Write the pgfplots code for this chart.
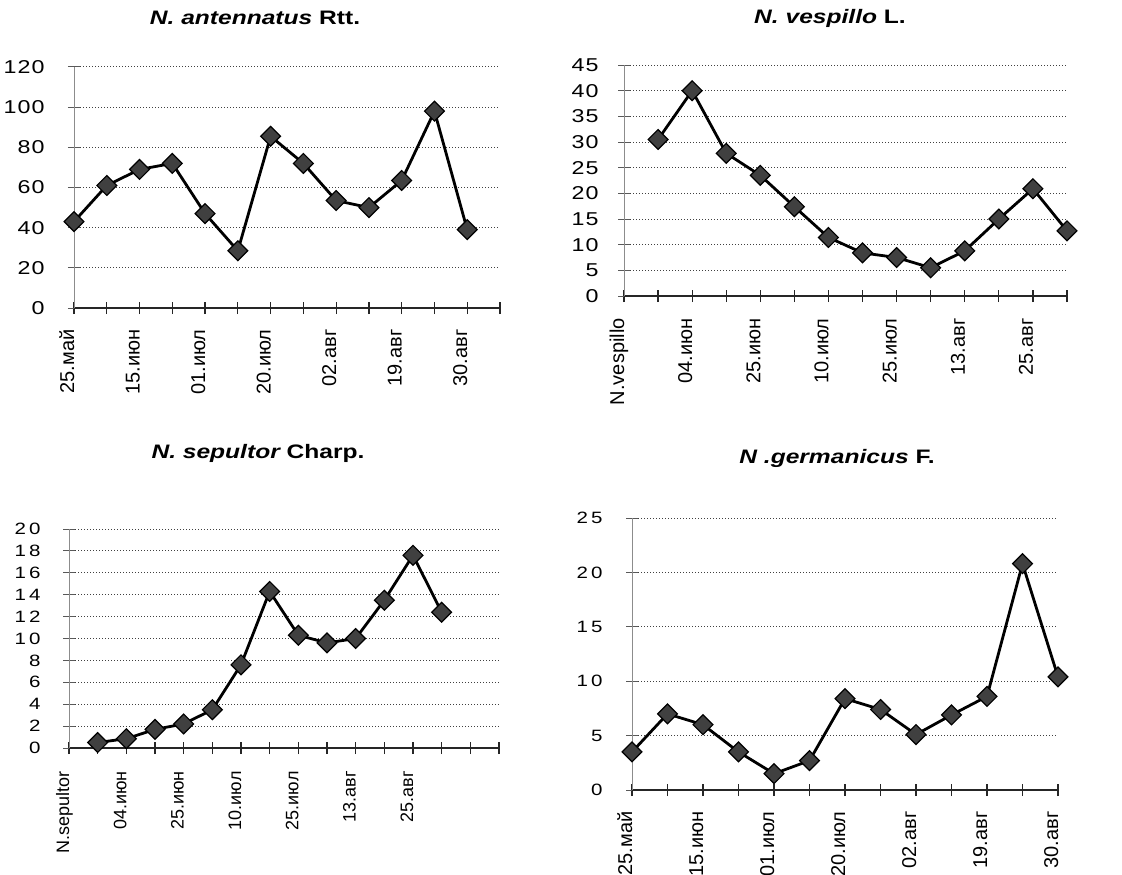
\documentclass[border=0pt]{standalone}
\usepackage{fontspec}
\usepackage{pgfplots}
\pgfplotsset{compat=1.18}
\setmainfont{Liberation Sans}
\newfontfamily\titlefont[FakeStretch=1.26]{Liberation Sans}
\newfontfamily\ytickfont[FakeStretch=1.25,LetterSpace=6]{Liberation Sans}
\newfontfamily\ytickfontw[FakeStretch=1.25,LetterSpace=20]{Liberation Sans}

% 1 px of the reference = 0.5pt
\pgfplotsset{
  chart/.style={
    scale only axis, anchor=south west,
    axis lines*=left, xmin=0, ymin=0, clip=false,
    xtick pos=bottom, ytick pos=left,
    xtick align=center, ytick align=center, major tick length=6pt,
    x axis line style={black!85, line width=0.7pt},
    y axis line style={black!45, line width=0.5pt},
    xtick style={black!85, line width=0.6pt},
    ytick style={black!65, line width=0.5pt},
    ymajorgrids, grid style={black!75, line width=0.5pt, dash pattern=on 0.5pt off 1pt},
    /pgf/number format/assume math mode=true,
    xticklabel style={rotate=90, anchor=base east, inner sep=0pt, font=\fontsize{10}{12}\selectfont},
    yticklabel style={anchor=east, inner sep=0pt},
  },
  ser/.style={black, line width=1.4pt, mark=square*, mark size=3.5pt,
    mark options={rotate=45, fill=black!75, draw=black, line width=0.6pt, solid}},
}

\begin{document}
\begin{tikzpicture}
\path[use as bounding box] (0,0) rectangle (561pt,437pt);

% N. antennatus
\begin{axis}[chart, at={(37pt,283pt)}, width=213pt, height=120.5pt,
  xmax=13, ymax=120, xtick={0,...,13}, ytick={0,20,...,120},
  xticklabels={25.май,,15.июн,,01.июл,,20.июл,,02.авг,,19.авг,,30.авг,},
  yticklabel style={font=\ytickfont\fontsize{9.3}{11}\selectfont},
  xtick align=center, ytick align=center,
  xticklabel shift=7.5pt, yticklabel shift=11.5pt]
\addplot[ser] coordinates {(0,43) (1,61) (2,69) (3,72) (4,47) (5,28.5) (6,85.5) (7,72) (8,53.5) (9,50) (10,63.5) (11,98) (12,39)};
\end{axis}

% N. vespillo
\begin{axis}[chart, at={(312pt,289pt)}, width=221.5pt, height=115.5pt,
  xmax=13, ymax=45, xtick={0,...,13}, ytick={0,5,...,45},
  xticklabels={N.vespillo,,04.июн,,25.июн,,10.июл,,25.июл,,13.авг,,25.авг,},
  yticklabel style={font=\ytickfont\fontsize{9.3}{11}\selectfont},
  xtick align=center, ytick align=center,
  xticklabel shift=8pt, yticklabel shift=9.5pt]
\addplot[ser] coordinates {(1,30.5) (2,40) (3,27.8) (4,23.5) (5,17.4) (6,11.4) (7,8.4) (8,7.5) (9,5.5) (10,8.8) (11,15) (12,20.9) (13,12.7)};
\end{axis}

% N. sepultor
\begin{axis}[chart, at={(34.5pt,63pt)}, width=215pt, height=109.5pt,
  xmax=15, ymax=20, xtick={0,...,15}, ytick={0,2,...,20},
  xticklabels={N.sepultor,,04.июн,,25.июн,,10.июл,,25.июл,,13.авг,,25.авг,,,},
  xticklabel style={font=\fontsize{9}{11}\selectfont},
  yticklabel style={font=\ytickfontw\fontsize{8.2}{10}\selectfont},
  xtick align=center, ytick align=center,
  xticklabel shift=8.5pt, yticklabel shift=11pt]
\addplot[ser] coordinates {(1,0.5) (2,0.85) (3,1.7) (4,2.2) (5,3.5) (6,7.6) (7,14.3) (8,10.3) (9,9.6) (10,10) (11,13.5) (12,17.6) (13,12.4)};
\end{axis}

% N. germanicus
\begin{axis}[chart, at={(316pt,42pt)}, width=213pt, height=136pt,
  xmax=12, ymax=25, xtick={0,...,12}, ytick={0,5,...,25},
  xticklabels={25.май,,15.июн,,01.июл,,20.июл,,02.авг,,19.авг,,30.авг},
  yticklabel style={font=\ytickfontw\fontsize{8.2}{10}\selectfont},
  xtick align=center, ytick align=center,
  xticklabel shift=7.5pt, yticklabel shift=11.5pt]
\addplot[ser] coordinates {(0,3.5) (1,7.0) (2,6.0) (3,3.5) (4,1.5) (5,2.7) (6,8.4) (7,7.4) (8,5.1) (9,6.9) (10,8.6) (11,20.8) (12,10.4)};
\end{axis}

\node[font=\titlefont\fontsize{9.75}{12}\selectfont\bfseries] at (127.5pt,428pt) {\itshape N. antennatus \upshape Rtt.};
\node[font=\titlefont\fontsize{9.75}{12}\selectfont\bfseries] at (415pt,428pt) {\itshape N. vespillo \upshape L.};
\node[font=\titlefont\fontsize{9.75}{12}\selectfont\bfseries] at (129pt,210.5pt) {\itshape N. sepultor \upshape Charp.};
\node[font=\titlefont\fontsize{9.75}{12}\selectfont\bfseries] at (418.5pt,208pt) {\itshape N .germanicus \upshape F.};
\end{tikzpicture}
\end{document}
